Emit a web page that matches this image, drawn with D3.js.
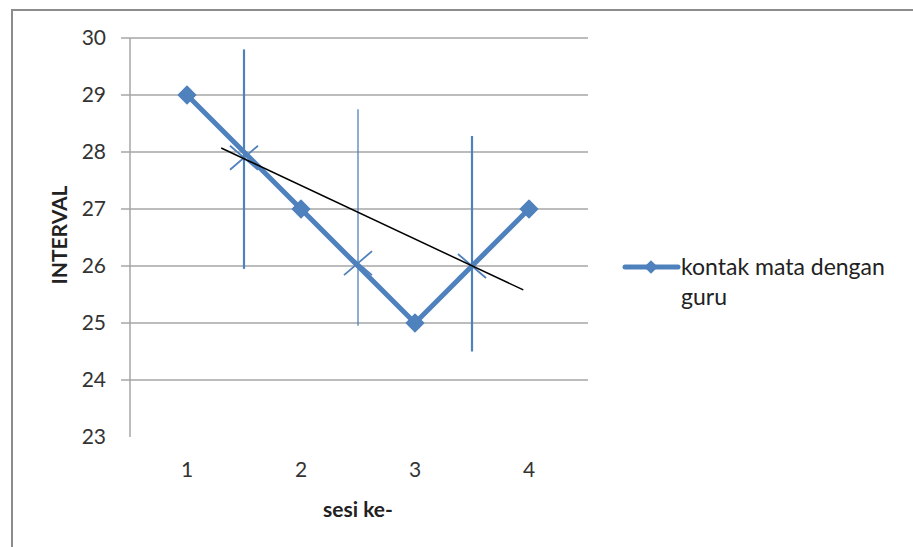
<!DOCTYPE html>
<html>
<head>
<meta charset="utf-8">
<script src="https://cdn.jsdelivr.net/npm/d3@7"></script>
<style>
  body { margin: 0; background: #fff; }
  text { font-family: Lato, "Open Sans", sans-serif; fill: #222; }
</style>
</head>
<body>
<svg id="chart" width="913" height="547"></svg>
<script>
const sessions = [1, 2, 3, 4];
const interval = [29, 27, 25, 27];
const yTicks = [23, 24, 25, 26, 27, 28, 29, 30];
const seriesName = ["kontak mata dengan", "guru"];

// hand-drawn annotations, in data units
const vLines = [
  { x: 1.5, y0: 29.8, y1: 25.95, w: 2.2, o: 1 },
  { x: 2.5, y0: 28.75, y1: 24.95, w: 1.6, o: 0.8 },
  { x: 3.5, y0: 28.28, y1: 24.5, w: 2.2, o: 1 }
];
const crosses = [
  { x: 1.5, y: 27.9 },
  { x: 2.5, y: 26.05 },
  { x: 3.5, y: 26.0 }
];
const trend = [{ x: 1.3, y: 28.07 }, { x: 3.95, y: 25.58 }];

const svg = d3.select("#chart");
const blue = "#4f81bd";

// outer frame (top and left only visible)
svg.append("path")
  .attr("d", "M12,547 V10 H913")
  .attr("fill", "none")
  .attr("stroke", "#8c8c8c")
  .attr("stroke-width", 2);

const plotLeft = 130, plotRight = 586, plotTop = 38, plotBottom = 437;

const x = d3.scaleLinear().domain([0.5, 4.5]).range([plotLeft, plotRight]);
const y = d3.scaleLinear().domain([23, 30]).range([plotBottom, plotTop]);

// gridlines + ticks
const grid = svg.append("g");
grid.selectAll("line")
  .data(yTicks.filter((d) => d > 23))
  .join("line")
  .attr("x1", plotLeft - 9)
  .attr("x2", plotRight + 2)
  .attr("y1", (d) => y(d))
  .attr("y2", (d) => y(d))
  .attr("stroke", "#a6a6a6")
  .attr("stroke-width", 1.5);

svg.append("line")
  .attr("x1", plotLeft).attr("x2", plotLeft)
  .attr("y1", plotTop).attr("y2", plotBottom)
  .attr("stroke", "#a6a6a6")
  .attr("stroke-width", 1.5);

svg.append("g").selectAll("text")
  .data(yTicks)
  .join("text")
  .attr("x", 106)
  .attr("y", (d) => y(d) + 7)
  .attr("text-anchor", "end")
  .attr("font-size", 21)
  .style("fill", "#333")
  .text((d) => d);

svg.append("g").selectAll("text")
  .data(sessions)
  .join("text")
  .attr("x", (d) => x(d))
  .attr("y", 477)
  .attr("text-anchor", "middle")
  .attr("font-size", 21)
  .style("fill", "#333")
  .text((d) => d);

// axis titles
svg.append("text")
  .attr("x", 358)
  .attr("y", 517)
  .attr("text-anchor", "middle")
  .attr("font-size", 21)
  .attr("font-weight", "bold")
  .text("sesi ke-");

svg.append("text")
  .attr("transform", "translate(67,235) rotate(-90)")
  .attr("text-anchor", "middle")
  .attr("font-size", 21)
  .attr("font-weight", "bold")
  .text("INTERVAL");

// annotations
svg.append("g").selectAll("line")
  .data(vLines)
  .join("line")
  .attr("x1", (d) => x(d.x)).attr("x2", (d) => x(d.x))
  .attr("y1", (d) => y(d.y0)).attr("y2", (d) => y(d.y1))
  .attr("stroke", blue)
  .attr("stroke-width", (d) => d.w)
  .attr("opacity", (d) => d.o);

svg.append("g").selectAll("path")
  .data(crosses)
  .join("path")
  .attr("d", (d) => {
    const cx = x(d.x), cy = y(d.y);
    return "M" + (cx - 14) + "," + (cy + 12) + "L" + (cx + 14) + "," + (cy - 12) +
      "M" + (cx - 14) + "," + (cy - 12) + "L" + (cx + 14) + "," + (cy + 12);
  })
  .attr("stroke", blue)
  .attr("stroke-width", 1.8)
  .attr("fill", "none");

// series
const line = d3.line()
  .x((d, i) => x(sessions[i]))
  .y((d) => y(d));

svg.append("path")
  .datum(interval)
  .attr("d", line)
  .attr("fill", "none")
  .attr("stroke", blue)
  .attr("stroke-width", 5)
  .attr("stroke-linejoin", "round");

const diamond = d3.symbol().type(d3.symbolDiamond2).size(190);
svg.append("g").selectAll("path")
  .data(interval)
  .join("path")
  .attr("transform", (d, i) => "translate(" + x(sessions[i]) + "," + y(d) + ")")
  .attr("d", diamond)
  .attr("fill", blue)
  .attr("stroke", blue)
  .attr("stroke-width", 1.5)
  .attr("stroke-linejoin", "round");

// black trend line
svg.append("line")
  .attr("x1", x(trend[0].x)).attr("y1", y(trend[0].y))
  .attr("x2", x(trend[1].x)).attr("y2", y(trend[1].y))
  .attr("stroke", "#000")
  .attr("stroke-width", 1.5);

// legend
const lg = svg.append("g").attr("transform", "translate(625,267)");
lg.append("line")
  .attr("x1", 0).attr("x2", 53)
  .attr("stroke", blue)
  .attr("stroke-width", 5)
  .attr("stroke-linecap", "round");
lg.append("path")
  .attr("transform", "translate(26,0)")
  .attr("d", d3.symbol().type(d3.symbolDiamond2).size(120))
  .attr("fill", blue);
lg.selectAll("text")
  .data(seriesName)
  .join("text")
  .attr("x", 56)
  .attr("y", (d, i) => 8 + i * 30)
  .attr("font-size", 23)
  .text((d) => d);
</script>
</body>
</html>
